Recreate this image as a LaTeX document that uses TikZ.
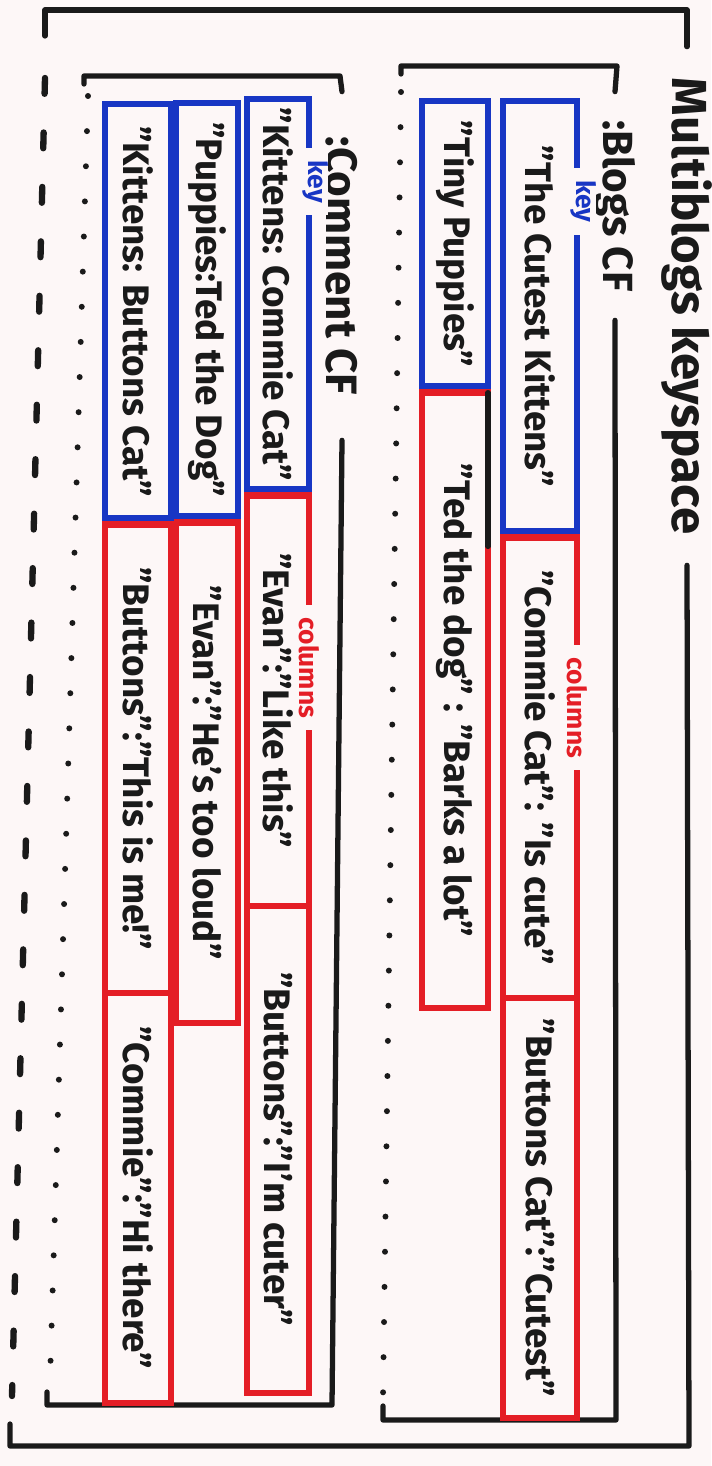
\documentclass[tikz,border=0pt]{standalone}
\usepackage{fontspec}
\setmainfont{Fira Sans}
\usetikzlibrary{positioning}
\definecolor{keyblue}{RGB}{24,54,196}
\definecolor{colred}{RGB}{228,30,38}
\definecolor{paper}{RGB}{253,247,247}
\definecolor{ink}{RGB}{26,26,26}
\tikzset{
  frame/.style={draw=ink,line width=3pt,line cap=round,line join=round},
  dots/.style={draw=ink,line width=3.4pt,line cap=round,dash pattern=on 0pt off 20pt},
  dashes/.style={draw=ink,line width=3.6pt,line cap=round,dash pattern=on 9pt off 22pt},
  cell/.style={rotate=-90,anchor=west,line width=3.6pt,inner sep=0pt,text=ink,
    font=\bfseries\fontsize{21}{23}\selectfont},
  keybox/.style={cell,draw=keyblue,outer sep=3.6pt},
  colbox/.style={cell,draw=colred,outer sep=0pt},
  tag/.style={rotate=-90,fill=paper,inner xsep=7pt,inner ysep=0pt,
    font=\bfseries\fontsize{15}{16}\selectfont},
  cflabel/.style={rotate=-90,inner sep=0pt,text=ink,font=\bfseries\fontsize{25}{27}\selectfont}
}
\begin{document}
\begin{tikzpicture}[x=0.2mm,y=-0.2mm]
  \useasboundingbox (0,0) rectangle (711,1466);
  \fill[paper] (0,0) rectangle (711,1466);

  \node[cflabel,minimum width=103.6mm,font=\bfseries\fontsize{28}{30}\selectfont] (ks) at (687,306) {Multiblogs keyspace};
  \draw[frame] (45,36) -- (45,10) -- (687,10) -- (ks.west);
  \draw[frame] (ks.east) -- (689,1446) -- (10,1446) -- (10,1424);
  \draw[dashes] (45,78) -- (12,1396);

  \node[cflabel,minimum width=45.6mm,font=\bfseries\fontsize{24}{26}\selectfont] (bcf) at (615,206) {:Blogs CF};
  \draw[frame] (401,74) -- (401,66) -- (617,66) -- (bcf.west);
  \draw[frame] (bcf.east) -- (616,1420) -- (383,1420) -- (383,1406);
  \draw[dots] (401,92) -- (383,1396);

  \node[cflabel,minimum width=69.6mm] (ccf) at (342,266) {:Comment CF};
  \draw[frame] (84,84) -- (84,76) -- (340,76) -- (ccf.west);
  \draw[frame] (ccf.east) -- (332,1405) -- (47,1405) -- (47,1392);
  \draw[dots] (88,96) -- (50,1380);

  \node[keybox,minimum width=86mm,minimum height=14.8mm] (k1) at (540,95) {"The Cutest Kittens"};
  \node[colbox,minimum width=92mm,minimum height=14.8mm] (c11) at (k1.east) {"Commie Cat": "Is cute"};
  \node[colbox,minimum width=84mm,minimum height=14.8mm] (c12) at (c11.east) {"Buttons Cat":"Cutest"};
  \path (k1.north west) -- (k1.north east) node[tag,text=keyblue,pos=0.24] (kt1) {key};
  \path (c11.north west) -- (c11.north east) node[tag,text=colred,pos=0.37] (ct1) {columns};

  \node[keybox,minimum width=57mm,minimum height=13.2mm] (k2) at (455,95) {"Tiny Puppies"};
  \node[colbox,minimum width=123mm,minimum height=13.2mm] (c21) at (k2.east) {"Ted the dog" : "Barks a lot"};
  \path (c21.north west) -- (c21.north east) coordinate[pos=0.25] (c21m);
  \draw[frame] (c21.north west) -- (c21m);

  \node[keybox,minimum width=78mm,minimum height=12.4mm] (kA) at (278,93) {"Kittens: Commie Cat"};
  \node[colbox,minimum width=82mm,minimum height=12.4mm] (cA1) at (kA.east) {"Evan":"Like this"};
  \node[colbox,minimum width=97.4mm,minimum height=12.4mm] (cA2) at (cA1.east) {"Buttons":"I'm cuter"};
  \path (kA.north west) -- (kA.north east) node[tag,text=keyblue,pos=0.22] (ktA) {key};
  \path (cA1.north west) -- (cA1.north east) node[tag,text=colred,pos=0.42] (ctA) {columns};

  \node[keybox,minimum width=82.6mm,minimum height=12.4mm] (kB) at (207,97) {"Puppies:Ted the Dog"};
  \node[colbox,minimum width=100mm,minimum height=12.4mm] (cB1) at (kB.east) {"Evan":"He's too loud"};

  \node[keybox,minimum width=82.8mm,minimum height=13.2mm] (kC) at (138,98) {"Kittens: Buttons Cat"};
  \node[colbox,minimum width=93.6mm,minimum height=13.2mm] (cC1) at (kC.east) {"Buttons":"This is me!"};
  \node[colbox,minimum width=82mm,minimum height=13.2mm] (cC2) at (cC1.east) {"Commie":"Hi there"};
\end{tikzpicture}
\end{document}
